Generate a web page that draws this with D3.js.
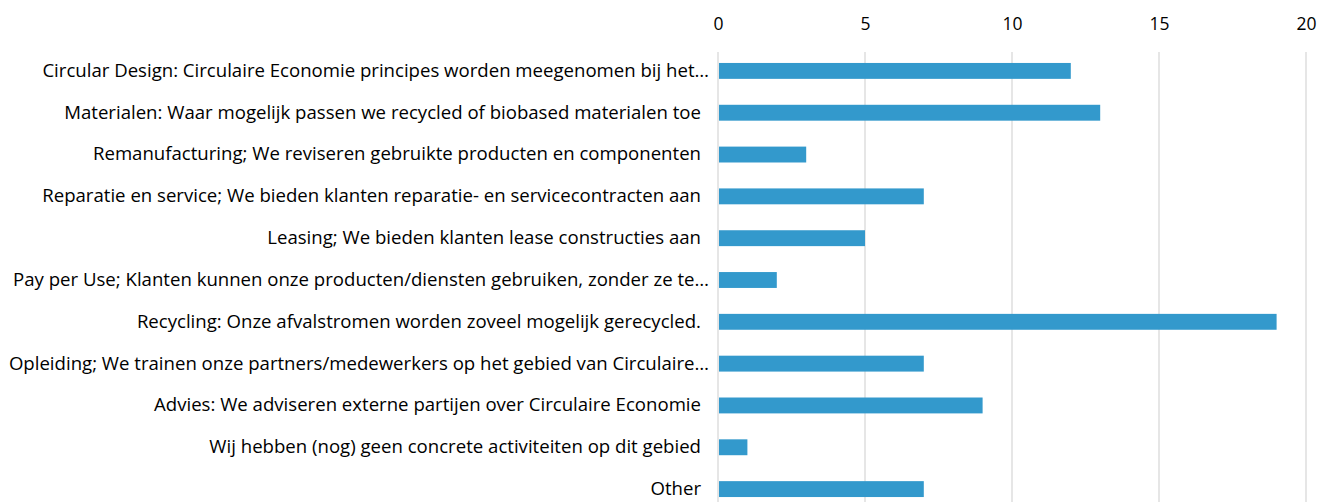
<!DOCTYPE html>
<html>
<head>
<meta charset="utf-8">
<script src="https://cdn.jsdelivr.net/npm/d3@7"></script>
<style>
  body { margin: 0; background: #fff; }
  svg text { font-family: "Open Sans", "Noto Sans", sans-serif; fill: #000; }
</style>
</head>
<body>
<svg id="chart" width="1331" height="502"></svg>
<script>
// categories, top to bottom
const categories = [
  "Circular Design: Circulaire Economie principes worden meegenomen bij het\u2026",
  "Materialen: Waar mogelijk passen we recycled of biobased materialen toe",
  "Remanufacturing; We reviseren gebruikte producten en componenten",
  "Reparatie en service; We bieden klanten reparatie- en servicecontracten aan",
  "Leasing; We bieden klanten lease constructies aan",
  "Pay per Use; Klanten kunnen onze producten/diensten gebruiken, zonder ze te\u2026",
  "Recycling: Onze afvalstromen worden zoveel mogelijk gerecycled.",
  "Opleiding; We trainen onze partners/medewerkers op het gebied van Circulaire\u2026",
  "Advies: We adviseren externe partijen over Circulaire Economie",
  "Wij hebben (nog) geen concrete activiteiten op dit gebied",
  "Other"
];
const values = [12, 13, 3, 7, 5, 2, 19, 7, 9, 1, 7];
const tickValues = [0, 5, 10, 15, 20];

const svg = d3.select("#chart");
const plotLeft = 718, plotRight = 1306, plotTop = 50, plotBottom = 510;
const font = "'Open Sans', 'Noto Sans', sans-serif";

const x = d3.scaleLinear().domain([0, 20]).range([plotLeft, plotRight]);
const y = d3.scaleBand()
  .domain(categories)
  .range([plotTop, plotBottom])
  .paddingInner(0.62)
  .paddingOuter(0.31);

// gridlines
svg.append("g")
  .selectAll("line")
  .data(tickValues)
  .join("line")
  .attr("x1", d => x(d)).attr("x2", d => x(d))
  .attr("y1", 52).attr("y2", 502)
  .attr("stroke", "#d9d9d9")
  .attr("stroke-width", 1.3);

// top axis labels
const xAxis = svg.append("g")
  .attr("transform", "translate(0,30)")
  .call(d3.axisTop(x).tickValues(tickValues).tickSize(0).tickPadding(0));
xAxis.select(".domain").remove();
xAxis.selectAll("text")
  .attr("font-size", "17.5px")
  .attr("font-family", font)
  .attr("fill", "#000");

// bars
svg.append("g")
  .selectAll("rect")
  .data(values)
  .join("rect")
  .attr("x", x(0) + 1)
  .attr("y", (d, i) => y(categories[i]))
  .attr("width", d => x(d) - x(0) - 1)
  .attr("height", y.bandwidth())
  .attr("fill", "#3399cc");

// category labels
const yAxis = svg.append("g")
  .attr("transform", `translate(${plotLeft - 17},0)`)
  .call(d3.axisLeft(y).tickSize(0).tickPadding(0));
yAxis.select(".domain").remove();
yAxis.selectAll("text")
  .attr("font-size", "18.6px")
  .attr("font-family", font)
  .attr("fill", "#000")
  // truncated labels run a bit closer to the axis, like excel does
  .attr("x", d => d.endsWith("\u2026") ? 8 : 0);
</script>
</body>
</html>
